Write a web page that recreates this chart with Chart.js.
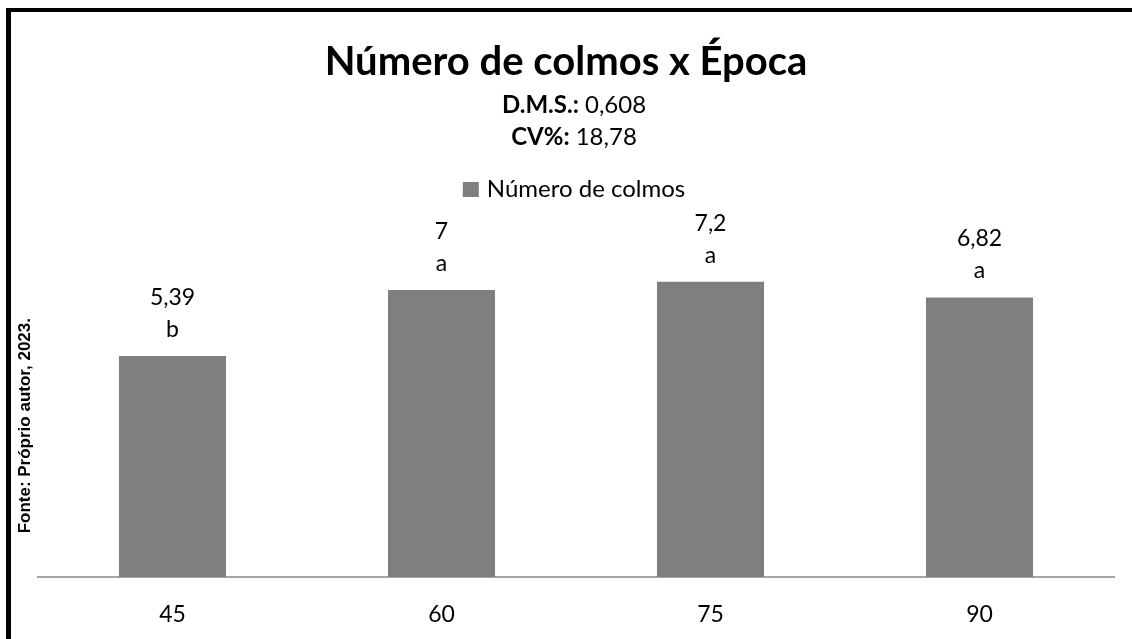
<!DOCTYPE html>
<html lang="pt-BR">
<head>
<meta charset="utf-8">
<title>Número de colmos x Época</title>
<script src="https://cdn.jsdelivr.net/npm/chart.js@4.4.0/dist/chart.umd.min.js"></script>
<style>
  html, body { margin: 0; padding: 0; background: #fff; }
  #grafico { display: block; }
</style>
</head>
<body>
<canvas id="grafico" width="1132" height="639"></canvas>
<script>
// dados do ensaio
const epocas = ['45', '60', '75', '90'];
const colmos = [5.39, 7, 7.2, 6.82];
const letras = ['b', 'a', 'a', 'a'];
const serie = 'Número de colmos';
const titulo = 'Número de colmos x Época';
const dms = '0,608';
const cv = '18,78';
const fonte = 'Fonte: Próprio autor, 2023.';

const cinza = '#7f7f7f';
const centro = 574;

function virgula(v) {
  return String(v).replace('.', ',');
}

// linha com parte em negrito e parte normal
function linhaMista(ctx, negrito, normal, cx, y) {
  ctx.font = 'bold 24px Lato';
  const w1 = ctx.measureText(negrito).width;
  ctx.font = '24px Lato';
  const w2 = ctx.measureText(normal).width;
  const x0 = cx - (w1 + w2) / 2;
  ctx.textAlign = 'left';
  ctx.font = 'bold 24px Lato';
  ctx.fillText(negrito, x0, y);
  ctx.font = '24px Lato';
  ctx.fillText(normal, x0 + w1, y);
}

const cabecalho = {
  id: 'cabecalho',
  beforeDraw(chart) {
    const ctx = chart.ctx;
    ctx.save();
    // moldura
    ctx.fillStyle = '#000';
    ctx.fillRect(6, 8, 5, 631);
    ctx.fillRect(6, 8, 1126, 4);
    ctx.restore();
  },
  afterDraw(chart) {
    const ctx = chart.ctx;
    ctx.save();
    ctx.fillStyle = '#000';
    ctx.textBaseline = 'alphabetic';
    ctx.textAlign = 'center';
    ctx.font = 'bold 40px Lato';
    ctx.fillText(titulo, 566, 75);

    linhaMista(ctx, 'D.M.S.:', ' ' + dms, centro, 113);
    linhaMista(ctx, 'CV%:', ' ' + cv, centro, 145);

    // legenda
    ctx.font = '24px Lato';
    const wt = ctx.measureText(serie).width;
    const x0 = centro - (16 + 8 + wt) / 2;
    ctx.fillStyle = chart.data.datasets[0].backgroundColor;
    ctx.fillRect(x0, 182, 16, 15);
    ctx.fillStyle = '#000';
    ctx.textAlign = 'left';
    ctx.fillText(serie, x0 + 24, 197);

    // fonte na lateral, lida de baixo para cima
    ctx.translate(30, 318);
    ctx.rotate(-Math.PI / 2);
    ctx.textAlign = 'right';
    ctx.textBaseline = 'alphabetic';
    ctx.font = 'bold 17px "Liberation Sans"';
    ctx.fillText(fonte, 0, 0);
    ctx.restore();
  }
};

// valor e letra do teste de médias acima de cada barra
const rotulos = {
  id: 'rotulos',
  afterDatasetsDraw(chart) {
    const ctx = chart.ctx;
    const meta = chart.getDatasetMeta(0);
    ctx.save();
    ctx.fillStyle = '#000';
    ctx.textAlign = 'center';
    ctx.textBaseline = 'alphabetic';
    ctx.font = '23px Lato';
    meta.data.forEach((barra, i) => {
      ctx.fillText(virgula(colmos[i]), barra.x, barra.y - 51);
      ctx.fillText(letras[i], barra.x, barra.y - 19);
    });
    ctx.restore();
  }
};

new Chart(document.getElementById('grafico'), {
  type: 'bar',
  data: {
    labels: epocas,
    datasets: [{
      label: serie,
      data: colmos,
      backgroundColor: cinza,
      barPercentage: 0.398,
      categoryPercentage: 1
    }]
  },
  options: {
    responsive: false,
    animation: false,
    devicePixelRatio: 1,
    layout: { padding: { left: 38, right: 18, top: 208, bottom: 0 } },
    plugins: {
      legend: { display: false },
      title: { display: false },
      tooltip: { enabled: false }
    },
    scales: {
      x: {
        grid: { display: false, drawTicks: false },
        border: { display: true, color: '#a5a5a5', width: 2 },
        ticks: { color: '#000', font: { family: 'Lato', size: 23 }, padding: 24 },
        afterFit(scale) { scale.height = 62; }
      },
      y: {
        display: false,
        min: 0,
        max: 9
      }
    }
  },
  plugins: [cabecalho, rotulos]
});
</script>
</body>
</html>
